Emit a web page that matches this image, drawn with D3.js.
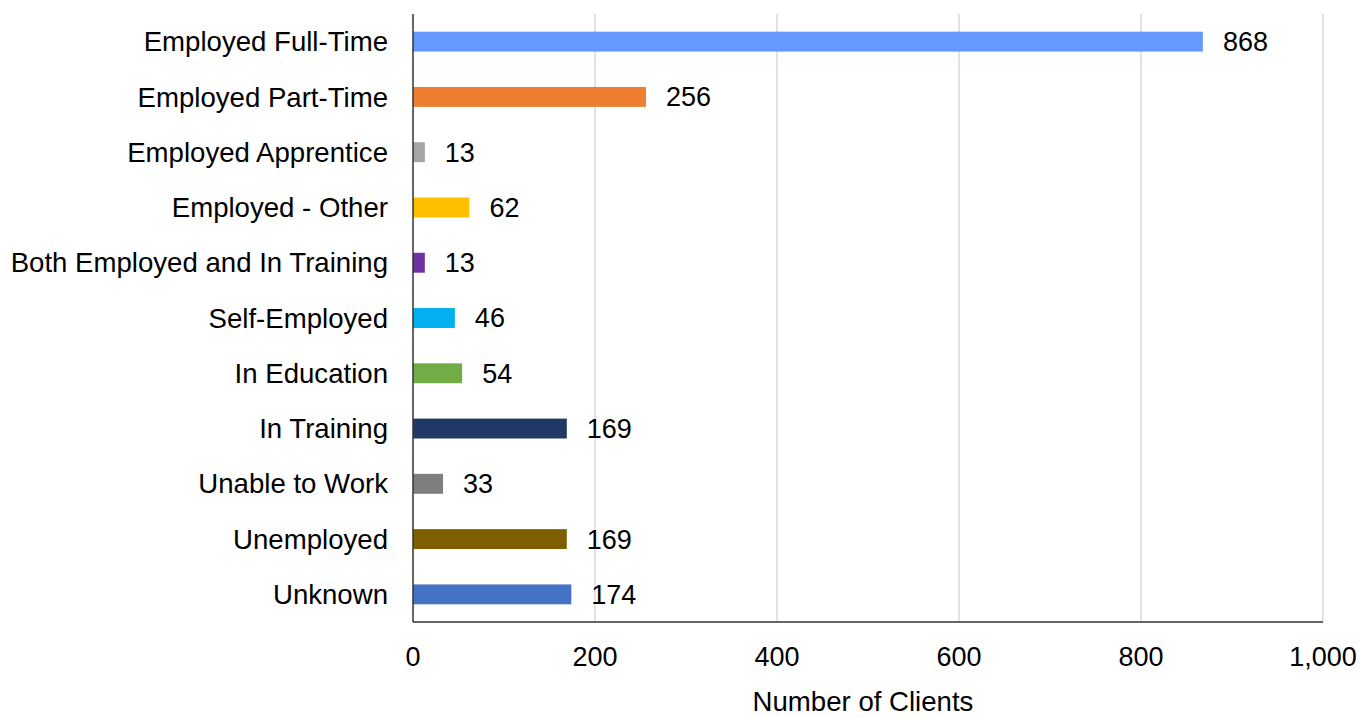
<!DOCTYPE html>
<html>
<head>
<meta charset="utf-8">
<script src="https://cdn.jsdelivr.net/npm/d3@7"></script>
<style>
  html, body { margin: 0; padding: 0; background: #fff; }
  svg { display: block; font-family: "Liberation Sans", Arial, sans-serif; }
</style>
</head>
<body>
<svg id="chart" width="1360" height="717"></svg>
<script>
// Client outcomes by employment status
const categories = [
  "Employed Full-Time",
  "Employed Part-Time",
  "Employed Apprentice",
  "Employed - Other",
  "Both Employed and In Training",
  "Self-Employed",
  "In Education",
  "In Training",
  "Unable to Work",
  "Unemployed",
  "Unknown"
];
const values = [868, 256, 13, 62, 13, 46, 54, 169, 33, 169, 174];
const colors = [
  "#6699FF", "#ED7D31", "#A5A5A5", "#FFC000", "#7030A0", "#00B0F0",
  "#70AD47", "#203864", "#7F7F7F", "#7F6000", "#4472C4"
];
const xTicks = [0, 200, 400, 600, 800, 1000];
const xTitle = "Number of Clients";

const margin = { top: 14, right: 37, bottom: 95, left: 413 };
const width = 1360, height = 717;
const svg = d3.select("#chart");
const innerW = width - margin.left - margin.right;
const innerH = height - margin.top - margin.bottom;

const g = svg.append("g").attr("transform", `translate(${margin.left},${margin.top})`);

const x = d3.scaleLinear().domain([0, 1000]).range([0, innerW]);
const y = d3.scaleBand().domain(categories).range([0, innerH])
  .paddingInner(0.64).paddingOuter(0.32);

// vertical gridlines
g.selectAll(".grid").data(xTicks.filter(d => d > 0)).join("line")
  .attr("x1", d => x(d)).attr("x2", d => x(d))
  .attr("y1", 0).attr("y2", innerH)
  .attr("stroke", "#d9d9d9").attr("stroke-width", 1.5);

// bars
g.selectAll(".bar").data(categories).join("rect")
  .attr("x", 0)
  .attr("y", d => y(d))
  .attr("width", (d, i) => x(values[i]))
  .attr("height", y.bandwidth())
  .attr("fill", (d, i) => colors[i]);

// value labels
g.selectAll(".val").data(categories).join("text")
  .attr("x", (d, i) => x(values[i]) + 20)
  .attr("y", d => y(d) + y.bandwidth() / 2)
  .attr("dy", "0.35em")
  .attr("font-size", 27)
  .attr("fill", "#000")
  .text((d, i) => values[i]);

// category labels
g.selectAll(".cat").data(categories).join("text")
  .attr("x", -25)
  .attr("y", d => y(d) + y.bandwidth() / 2)
  .attr("dy", "0.35em")
  .attr("text-anchor", "end")
  .attr("font-size", 27.6)
  .attr("fill", "#000")
  .text(d => d);

// axis lines
g.append("line").attr("x1", 0).attr("x2", 0).attr("y1", 0).attr("y2", innerH)
  .attr("stroke", "#333").attr("stroke-width", 1.5);
g.append("line").attr("x1", 0).attr("x2", innerW).attr("y1", innerH).attr("y2", innerH)
  .attr("stroke", "#333").attr("stroke-width", 1.5);

// x tick labels
const fmt = d3.format(",");
g.selectAll(".xt").data(xTicks).join("text")
  .attr("x", d => x(d))
  .attr("y", innerH + 35)
  .attr("dy", "0.35em")
  .attr("text-anchor", "middle")
  .attr("font-size", 27)
  .attr("fill", "#000")
  .text(d => fmt(d));

// axis title
g.append("text")
  .attr("x", innerW / 2 - 5)
  .attr("y", innerH + 89)
  .attr("text-anchor", "middle")
  .attr("font-size", 27.6)
  .attr("fill", "#000")
  .text(xTitle);
</script>
</body>
</html>
